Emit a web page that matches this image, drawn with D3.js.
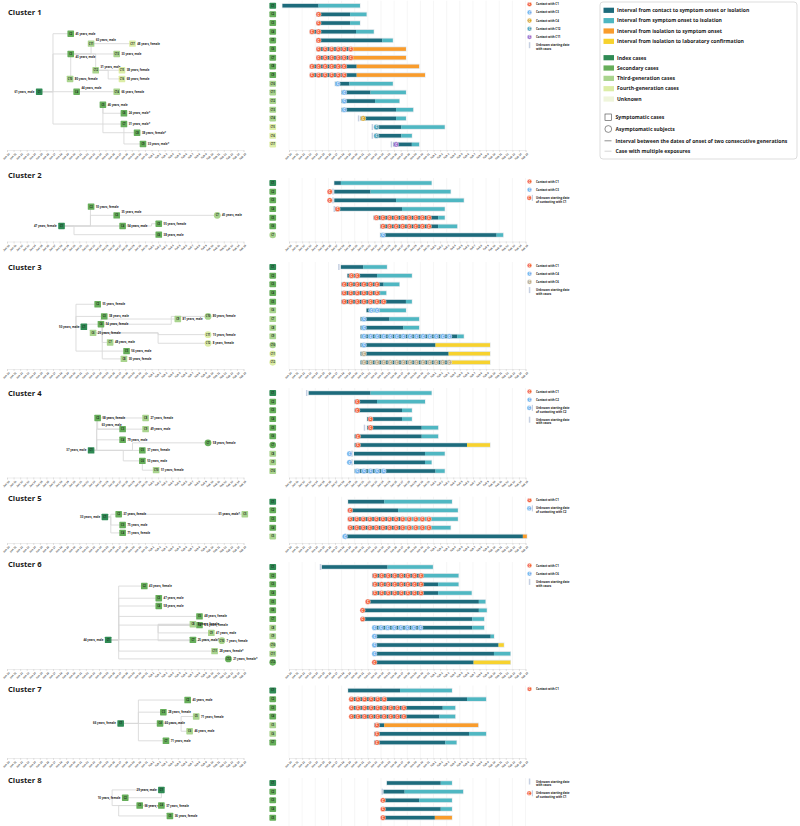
<!DOCTYPE html>
<html><head><meta charset="utf-8">
<script src="https://cdn.jsdelivr.net/npm/d3@7"></script>
<style>
body{margin:0;background:#fff;}
svg{display:block;font-family:"Open Sans","Lato",sans-serif;}
</style></head><body>
<svg id="chart" width="800" height="826"></svg>
<script>
// ---------------- DATA ----------------
const tickDays = d3.range(10, 47);
const tickLabels = tickDays.map(d => d <= 31 ? "Jan " + d : "Feb " + (d - 31));

// rows: [id, generation(0 index..4 unknown), asymptomatic, start, mid, end, tail(S/O/Y), contactWith, contactDays, unknownDay]
const c1Rows = [
 ["C1",0,0, 9,14.5,20.8,"S",null,[],null],
 ["C2",1,0,14.2,19.3,21.8,"S","C1",[14.5],null],
 ["C3",1,0,14.2,19.3,20.8,"S","C1",[14.5],null],
 ["C4",1,0,13.2,20.2,22.9,"S","C1",[13.5,14.5],null],
 ["C5",1,0,14.2,24.2,25.8,"S","C1",[14.5],null],
 ["C6",1,0,14.2,19.4,27.8,"O","C1",[14.5,15.5,16.5,17.5,18.4,19.4],null],
 ["C7",1,0,14.2,19.4,27.8,"O","C1",[14.5,15.5,16.5,17.5,18.4,19.4],null],
 ["C8",1,0,13.2,20.3,29.8,"O","C1",[13.5,14.5,15.5,16.5,17.5,18.4],null],
 ["C9",1,0,13.2,20.3,30.7,"O","C1",[13.5,14.5,15.5,16.5,17.5,18.4],null],
 ["C10",2,0,17,19.2,25.8,"S","C3",[17.4],null],
 ["C11",2,0,18,22.4,27.8,"S","C3",[18.4],null],
 ["C12",2,0,18,23.1,26.8,"S","C3",[18.4],null],
 ["C13",2,0,18,26.3,28.9,"S","C3",[18.4],null],
 ["C14",2,0,20.9,26.3,27.8,"S","C4",[21.3],20.6],
 ["C15",3,0,23,27.1,33.7,"S","C12",[23.3],22.7],
 ["C16",3,0,23,27.1,28.7,"S","C12",[23.3],22.7],
 ["C17",3,0,25.9,28.7,29.8,"S","C11",[26.3],25.6]
];
// tree nodes: [id, lane (rank in row units), label]
const c1Tree = [
 ["C1",9.92,"61 years, male"],["C2",3.23,"45 years, male"],["C3",5.57,"43 years, male"],
 ["C4",9.92,"44 years, male"],["C5",11.42,"46 years, male"],["C6",12.41,"24 years, male*"],
 ["C7",13.65,"31 years, male*"],["C8",14.65,"38 years, female*"],["C9",15.95,"33 years, male*"],
 ["C10",8.45,"80 years, female"],["C11",4.38,"63 years, male"],["C12",7.45,"31 years, male"],
 ["C13",5.57,"33 years, male"],["C14",9.92,"66 years, female"],["C15",7.45,"38 years, female"],
 ["C16",8.45,"68 years, female"],["C17",4.38,"48 years, female"]
];
// edges: [parent, child, junction day | "p" parent | "c" child]
const c1Edges = [
 ["C1","C2",17],["C1","C3",17],["C1","C4",17],["C1","C7",17],
 ["C5","C6","p"],["C5","C8","p"],["C7","C9","p"],
 ["C3","C11","c"],["C3","C13","p"],["C3","C12","c"],["C3","C10","p"],
 ["C11","C17","p"],["C12","C15","p"],["C12","C16",25.4],["C4","C14","p"]
];
const c1Legend = [["c","C1","Contact with C1"],["c","C3","Contact with C3"],["c","C4","Contact with C4"],["c","C12","Contact with C12"],["c","C11","Contact with C11"],["u",null,"Unknown starting date|with cases"]];

const c2Rows = [
 ["C1",0,0,16.9,17.9,31.7,"S",null,[],null],
 ["C2",1,0,16.9,22.4,34.6,"S","C1",[16.2],16.7],
 ["C3",1,0,16.9,26.3,36.6,"S","C1",[16.2],16.7],
 ["C4",1,0,17,27.2,33.7,"S","C1",[17.4],16.9],
 ["C5",1,0,22.9,32.7,33.7,"S","C1",[23.3,24.3,25.3,26.3,27.3,28.3,29.3,30.3,31.3],null],
 ["C6",1,0,23.9,32.7,35.6,"S","C1",[24.3,25.3,26.3,27.3,28.3,29.3,30.3,31.3],null],
 ["C7",2,1,23.9,41.6,42.6,"S","C3",[24.3],null]
];
const c2Tree = [
 ["C1",4.96,"47 years, female"],["C2",2.73,"55 years, female"],["C3",3.73,"35 years, male"],
 ["C4",4.96,"54 years, male"],["C5",4.7,"55 years, female"],["C6",5.96,"38 years, male"],["C7",3.73,"45 years, male"]
];
const c2Edges = [["C1","C2",22.7],["C1","C3",22.7],["C1","C4","p"],["C1","C6",20.2],["C1","C5",32],["C3","C7","p"]];
const c2Legend = [["c","C1","Contact with C1"],["c","C3","Contact with C3"],["cu","C1","Unknown starting date|of contacting with C1"]];

const c3Rows = [
 ["C1",0,0,17.9,21.3,24.9,"S",null,[],17.6],
 ["C2",1,0,18.9,23.4,28.7,"S","C1",[19.5,20.4],null],
 ["C3",1,0,18,24.4,26.8,"S","C1",[18.4,19.4,20.4,21.4,22.4,23.4],null],
 ["C4",1,0,18,23.9,24.8,"S","C1",[18.4,19.4,20.4,21.4,22.4,23.4],null],
 ["C5",1,0,18,27.8,28.7,"S","C1",[18.4,19.4,20.4,21.4,22.4,23.4,24.4],null],
 ["C6",2,0,21.8,22.7,27.8,"S","C4",[22.5,23.4],null],
 ["C7",2,0,20.9,25.3,29.8,"S","C4",[21.4],null],
 ["C8",2,0,20.9,27.4,29.8,"S","C4",[21.4],null],
 ["C9",2,0,20.9,35.6,36.6,"S","C4",[21.4,22.4,23.4,24.4,25.4,26.4,27.4,28.4,29.4,30.4,31.4,32.4,33.4,34.4],null],
 ["C10",2,1,20.9,32.3,40.6,"Y","C4",[21.4],null],
 ["C11",3,1,20.9,34.3,40.6,"Y","C6",[21.4],null],
 ["C12",3,1,20.9,34.6,40.6,"Y","C6",[21.4,22.4,23.4,24.4,25.4,26.4,27.4,28.4,29.4,30.4,31.4,32.4,33.4,34.4],null]
];
const c3Tree = [
 ["C1",6.9,"50 years, male"],["C2",4.3,"55 years, female"],["C3",5.7,"38 years, male"],["C4",6.6,"54 years, female"],
 ["C5",9.7,"56 years, male"],["C6",7.6,"25 years, female"],["C7",8.7,"48 years, male"],["C8",10.6,"30 years, female"],
 ["C9",6.0,"81 years, male"],["C10",5.7,"80 years, female"],["C11",7.8,"15 years, female"],["C12",8.8,"8 years, female"]
];
const c3Edges = [["C1","C2",20.5],["C1","C3",20.5],["C1","C4","p"],["C1","C5",20.5],
 ["C4","C6",24.5],["C4","C7",24.5],["C4","C8",24.5],["C4","C9","p"],["C4","C10",35],["C6","C11",33],["C6","C12",33]];
const c3Legend = [["c","C1","Contact with C1"],["c","C4","Contact with C4"],["c","C6","Contact with C6"],["u",null,"Unknown starting date|with cases"]];

const c4Rows = [
 ["C1",0,0,13,22.4,31.7,"S",null,[],12.7],
 ["C2",1,0,20,23.4,30.7,"S","C1",[20.4],null],
 ["C3",1,0,20,27.2,28.7,"S","C1",[20.4],null],
 ["C4",1,0,21.9,27.2,28.7,"S","C1",[22.4],null],
 ["C5",1,0,21.9,30.2,32.7,"S","C1",[22.4],21.5],
 ["C6",1,0,20,30.2,32.7,"S","C1",[20.5],null],
 ["C7",1,1,20,37.1,40.6,"Y","C1",[20.5],null],
 ["C8",2,0,19.9,30.7,33.7,"S","C2",[19.2],19.6],
 ["C9",2,0,19.9,30.7,31.7,"S","C2",[19.2],19.6],
 ["C10",2,0,20,32.3,33.7,"S","C2",[20.4,21.4,22.4,23.4,24.4],null]
];
const c4Tree = [
 ["C1",6.62,"37 years, male"],["C2",2.88,"58 years, female"],["C3",4.17,"63 years, male"],["C4",5.4,"79 years, male"],
 ["C5",6.62,"37 years, female"],["C6",7.83,"53 years, male"],["C7",5.75,"58 years, female"],["C8",2.88,"27 years, female"],
 ["C9",4.17,"49 years, male"],["C10",8.9,"51 years, female"]
];
const c4Edges = [["C1","C2",23.65],["C1","C3",23.65],["C1","C4",23.65],["C1","C5","p"],["C1","C6",27.7],["C1","C7",29.1],
 ["C2","C8","p"],["C2","C9","p"],["C6","C10","p"]];
const c4Legend = [["c","C1","Contact with C1"],["c","C2","Contact with C2"],["cu","C2","Unknown starting date|of contacting with C2"],["u",null,"Unknown starting date|with cases"]];

const c5Rows = [
 ["C1",0,0,19,24.5,34.8,"S",null,[],null],
 ["C2",1,0,19,26.6,35.7,"S","C1",[19.3],null],
 ["C3",1,0,19,27.2,35.7,"S","C1",[19.3,20.3,21.3,22.3,23.3,24.3,25.3,26.3,27.3,28.3,29.3,30.3,31.3],null],
 ["C4",1,0,19,27.2,34.6,"S","C1",[19.3,20.3,21.3,22.3,23.3,24.3,25.3,26.3,27.3,28.3,29.3,30.3,31.3],null],
 ["C5",2,0,18.8,45.6,46.2,"O","C2",[18.5],18.6]
];
const c5Tree = [["C1",1.76,"33 years, male"],["C2",1.45,"37 years, female"],["C3",2.69,"75 years, male"],["C4",3.6,"71 years, female"],["C5",1.45,"51 years, male*"]];
const c5Edges = [["C1","C2",25.8],["C1","C3",25.8],["C1","C4",25.8],["C2","C5","p"]];
const c5Legend = [["c","C1","Contact with C1"],["cu","C2","Unknown starting date|of contacting with C2"]];

const c6Rows = [
 ["C1",0,0,15,25,31.9,"S",null,[],14.8],
 ["C2",1,0,22.7,30.5,35.8,"S","C1",[23.1,24.1,25.1,26.1,27.1,28.1,29.1,30.1],null],
 ["C3",1,0,22.7,32.7,35.8,"S","C1",[23.1,24.1,25.1,26.1,27.1,28.1,29.1,30.1],null],
 ["C4",1,0,22.7,32.7,37.8,"S","C1",[23.1,24.1,25.1,26.1,27.1,28.1,29.1,30.1],null],
 ["C5",1,0,21.8,38.9,39.9,"S","C1",[22.0],null],
 ["C6",1,0,21.1,38.9,40.1,"S","C1",[21.2],null],
 ["C7",1,0,21.1,37.9,39.7,"S","C1",[21.2],null],
 ["C8",2,0,22.8,37.9,39.7,"S","C6",[23.0,24.0,25.0,26.0,27.0,28.0,29.0,30.0],null],
 ["C9",2,0,22.8,40.7,41.2,"S","C6",[23.0],null],
 ["C10",2,1,22.8,41.9,42.7,"Y","C6",[23.0],null],
 ["C11",2,0,22.8,41.2,43.7,"S","C6",[23.0],null],
 ["C12",1,1,22.8,38.1,43.7,"Y","C1",[23.0],null]
];
const c6Tree = [["C1",8.4,"44 years, male"],["C2",2.2,"43 years, female"],["C3",3.6,"47 years, male"],["C4",4.5,"58 years, male"],
 ["C5",5.7,"48 years, female"],["C6",6.7,"6.5 years, female"],["C7",8.4,"25 years, male*"],["C8",6.6,"3 years, female"],
 ["C9",7.6,"41 years, male"],["C10",8.5,"7 years, female"],["C11",9.7,"28 years, female*"],["C12",10.6,"21 years, female*"]];
const c6Edges = [["C1","C2",27],["C1","C3",27],["C1","C4",27],["C1","C5",27],["C1","C6",27],["C1","C7","p"],["C1","C11",27],["C1","C12",27],
 ["C6","C8",33],["C6","C9",33],["C6","C10",33]];
const c6Legend = [["c","C1","Contact with C1"],["c","C6","Contact with C6"],["u",null,"Unknown starting date|with cases"]];

const c7Rows = [
 ["C1",0,0,19,26.9,34.8,"S",null,[],null],
 ["C2",1,0,19.3,37.1,40,"S","C1",[19.5,20.5,21.5,22.5,23.5,24.5],null],
 ["C3",1,0,19.3,33.4,35.3,"S","C1",[19.5,20.5,21.5,22.5,23.5,24.5,25.5,26.5,27.5],null],
 ["C4",1,0,19.3,32.9,35.3,"S","C1",[19.5,20.5,21.5,22.5,23.5,24.5,25.5,26.5,27.5],null],
 ["C5",2,0,23,24.5,38.8,"O","C1",[23.4],null],
 ["C6",2,0,23,37.4,40,"S","C1",[23.4],null],
 ["C7",1,0,23,33.8,35.5,"S","C1",[23.4],null]
];
const c7Tree = [["C1",3.8,"66 years, female"],["C2",1.1,"43 years, male"],["C3",2.5,"28 years, female"],["C4",3.8,"60 years, male"],
 ["C5",3.0,"71 years, female"],["C6",4.7,"46 years, male"],["C7",5.8,"71 years, male"]];
const c7Edges = [["C1","C2",30],["C1","C3",30],["C1","C4","p"],["C1","C7",30],["C4","C5",36.5],["C4","C6",36.5]];
const c7Legend = [["c","C1","Contact with C1"]];

const c8Rows = [
 ["C1",0,0,24.9,33.1,34.8,"S",null,[],null],
 ["C2",1,0,24.4,27.6,36.5,"S","C1",[],24.2],
 ["C3",1,0,24.6,29.8,34.8,"S","C1",[24.3],null],
 ["C4",1,0,24.6,33.1,34.8,"S","C1",[24.3],null],
 ["C5",1,0,24.6,32.2,34.8,"O","C1",[24.3],null]
];
const c8Tree = [["C1",0.8,"29 years, male"],["C2",1.7,"10 years, female"],["C3",2.6,"36 years, male"],["C4",2.6,"37 years, female"],["C5",3.8,"36 years, female"]];
const c8Edges = [["C1","C2","p"],["C1","C4",26],["C4","C3","p"],["C4","C5",27]];
const c8Legend = [["u",null,"Unknown starting date|with cases"],["cu","C1","Unknown starting date|of contacting with C1"]];

const segLegend = ["Interval from contact to symptom onset or isolation","Interval from symptom onset to isolation","Interval from isolation to symptom onset","Interval from isolation to laboratory confirmation"];
const genLegend = ["Index cases","Secondary cases","Third-generation cases","Fourth-generation cases","Unknown"];

// ---------------- STYLE / LAYOUT ----------------
const segColor = {D:"#1d6b7c", S:"#4fb7c2", O:"#f99c2c", Y:"#f7d22e"};
const genColor = ["#2f8a54","#66ae5a","#a9d48e","#dceda6","#eff5db"];
const contactPalette = [["#f3603b","#72b1ec","#d7a52b","#4c9fb7","#9a6dcb"],["#f3603b","#72b1ec"],["#f3603b","#72b1ec","#b8aa8b"],["#f3603b","#72b1ec"],["#f3603b","#72b1ec"],["#f3603b","#72b1ec"],["#f3603b"],["#f3603b"]];
const ROW = 8.67;
const clusters = [
 {title:"Cluster 1",titleY:14.7,top:5.7,axisY:150,rows:c1Rows,tree:c1Tree,edges:c1Edges,legend:c1Legend},
 {title:"Cluster 2",titleY:177.5,top:183,axisY:241.5,rows:c2Rows,tree:c2Tree,edges:c2Edges,legend:c2Legend},
 {title:"Cluster 3",titleY:269.5,top:267,axisY:369,rows:c3Rows,tree:c3Tree,edges:c3Edges,legend:c3Legend},
 {title:"Cluster 4",titleY:395.7,top:393,axisY:477.5,rows:c4Rows,tree:c4Tree,edges:c4Edges,legend:c4Legend},
 {title:"Cluster 5",titleY:501,top:501.7,axisY:543,rows:c5Rows,tree:c5Tree,edges:c5Edges,legend:c5Legend},
 {title:"Cluster 6",titleY:567,top:567,axisY:669,rows:c6Rows,tree:c6Tree,edges:c6Edges,legend:c6Legend},
 {title:"Cluster 7",titleY:692,top:690.5,axisY:758,rows:c7Rows,tree:c7Tree,edges:c7Edges,legend:c7Legend},
 {title:"Cluster 8",titleY:783,top:783,axisY:null,rows:c8Rows,tree:c8Tree,edges:c8Edges,legend:c8Legend}
];
const labelPos = {"0:C1":"l","0:C3":"b","0:C4":"a","0:C11":"a","0:C12":"a",
 "1:C1":"l","1:C3":"a","2:C1":"l","3:C1":"l","3:C3":"al","4:C1":"l","4:C5":"l","5:C1":"l","6:C1":"l","7:C1":"l","7:C2":"l"};

const treeX = d3.scaleLinear().domain([10,46]).range([7,243.5]);
const barX = d3.scaleLinear().domain([10,46]).range([289,525.5]);
const svg = d3.select("#chart");
const g = svg.append("g");

function nodeDay(r){ return r[6]==="S" ? r[4]+0.4 : r[5]; }

function drawAxis(scale, y){
  const ax = d3.axisBottom(scale).tickValues(tickDays).tickFormat((d,i)=>tickLabels[i]).tickSize(2).tickPadding(1);
  const a = g.append("g").attr("transform",`translate(0,${y})`).call(ax);
  a.select(".domain").attr("stroke","#d8d8d8").attr("stroke-width",0.5);
  a.selectAll(".tick line").attr("stroke","#c8c8c8").attr("stroke-width",0.5);
  a.selectAll(".tick text").attr("font-size",2.7).attr("fill","#555").attr("font-weight",600)
   .attr("text-anchor","end").attr("transform","rotate(-45)").attr("dx",-1.2).attr("dy",1.6);
}

function contactMark(sel, x, y, color, r){
  sel.append("circle").attr("cx",x).attr("cy",y).attr("r",r).attr("fill",color).attr("stroke","#fff").attr("stroke-width",0.4);
  sel.append("text").attr("x",x).attr("y",y+1.25).attr("text-anchor","middle").attr("font-size",r*1.15).attr("font-weight",700).attr("fill","#fff").text("C");
}

clusters.forEach((c,ci)=>{
  const pal = contactPalette[ci];
  const keyColor = {};
  c.legend.forEach(l=>{ if(l[1] && !(l[1] in keyColor)) keyColor[l[1]] = pal[Object.keys(keyColor).length]; });
  g.append("text").attr("x",8).attr("y",c.titleY).attr("font-size",7.6).attr("font-weight",700).attr("fill","#1a1a1a").text(c.title);
  const yOf = i => c.top + i*ROW;
  const bottom = c.axisY || 826;
  g.append("g").selectAll("line").data(tickDays.filter(d=>d%2===0)).join("line")
   .attr("x1",d=>barX(d)).attr("x2",d=>barX(d)).attr("y1",c.top-5).attr("y2",bottom)
   .attr("stroke","#ececec").attr("stroke-width",0.5);
  if(c.axisY){ drawAxis(treeX, c.axisY); drawAxis(barX, c.axisY); }
  const rg = g.append("g");
  c.rows.forEach((r,i)=>{
    const y = yOf(i);
    if(r[2]) rg.append("circle").attr("cx",272.7).attr("cy",y).attr("r",3.3).attr("fill",genColor[r[1]]);
    else rg.append("rect").attr("x",269.4).attr("y",y-3).attr("width",6.7).attr("height",6).attr("rx",0.8).attr("fill",genColor[r[1]]);
    rg.append("text").attr("x",272.7).attr("y",y+0.9).attr("text-anchor","middle").attr("font-size",2.5).attr("font-weight",700).attr("fill","#1c2a1c").text(r[0]);
    rg.append("rect").attr("x",barX(r[3])-0.6).attr("y",y-2.6).attr("width",barX(r[5])-barX(r[3])+1.2).attr("height",5.2).attr("fill","#e2e8ec");
    rg.append("rect").attr("x",barX(r[3])).attr("y",y-1.8).attr("width",barX(r[4])-barX(r[3])).attr("height",3.6).attr("fill",segColor.D);
    rg.append("rect").attr("x",barX(r[4])).attr("y",y-1.8).attr("width",barX(r[5])-barX(r[4])).attr("height",3.6).attr("fill",segColor[r[6]]);
    if(r[9]!=null) rg.append("rect").attr("x",barX(r[9])-0.8).attr("y",y-3).attr("width",1.5).attr("height",6).attr("fill","#c6d0e2");
    r[8].forEach(d=>contactMark(rg, barX(d), y, keyColor[r[7]], 2.6));
  });
  let ly = c.top - 1.5;
  const lg = g.append("g");
  c.legend.forEach(l=>{
    const lines = l[2].split("|");
    if(l[0]==="c") contactMark(lg,529.5,ly,keyColor[l[1]],2.3);
    else if(l[0]==="u") lg.append("rect").attr("x",528.8).attr("y",ly-3).attr("width",1.5).attr("height",6).attr("fill","#c6d0e2");
    else { contactMark(lg,529.2,ly,keyColor[l[1]],2.3); lg.append("rect").attr("x",531.8).attr("y",ly-3).attr("width",1.2).attr("height",6).attr("fill","#c6d0e2"); }
    lines.forEach((t,k)=>lg.append("text").attr("x",536).attr("y",ly+1+k*3.6).attr("font-size",2.9).attr("font-weight",700).attr("fill","#222").text(t));
    ly += 8.2 + (lines.length-1)*3.6;
  });
  const nodes = {};
  c.tree.forEach(t=>{
    const r = c.rows.find(q=>q[0]===t[0]);
    nodes[t[0]] = {x:treeX(nodeDay(r)), y:c.top + t[1]*ROW, row:r, label:t[2], id:t[0]};
  });
  const tg = g.append("g");
  c.edges.forEach(e=>{
    const p = nodes[e[0]], ch = nodes[e[1]];
    const vx = e[2]==="p" ? p.x : e[2]==="c" ? ch.x : treeX(e[2]);
    tg.append("path").attr("d",`M${p.x},${p.y}H${vx}V${ch.y}H${ch.x}`).attr("fill","none").attr("stroke","#d9d9d9").attr("stroke-width",0.9);
  });
  Object.values(nodes).forEach(n=>{
    if(n.row[2]) tg.append("circle").attr("cx",n.x).attr("cy",n.y).attr("r",3.4).attr("fill",genColor[n.row[1]]);
    else tg.append("rect").attr("x",n.x-3.3).attr("y",n.y-3.2).attr("width",6.6).attr("height",6.4).attr("rx",0.6).attr("fill",genColor[n.row[1]]);
    tg.append("text").attr("x",n.x).attr("y",n.y+0.9).attr("text-anchor","middle").attr("font-size",2.5).attr("font-weight",700).attr("fill","#1c2a1c").text(n.id);
    const pos = labelPos[ci+":"+n.id] || "r";
    const o = {r:[4.8,1,"start"],l:[-4.8,1,"end"],a:[4.8,-2.4,"start"],b:[4.8,4.4,"start"],al:[-1,-3.6,"end"]}[pos];
    tg.append("text").attr("x",n.x+o[0]).attr("y",n.y+o[1]).attr("text-anchor",o[2]).attr("font-size",2.8).attr("font-weight",700).attr("fill","#222").text(n.label);
  });
});

const L = g.append("g");
L.append("rect").attr("x",600).attr("y",2).attr("width",197).attr("height",157).attr("rx",3).attr("fill","#fff").attr("stroke","#cfcfcf").attr("stroke-width",0.7);
const segKeys = ["D","S","O","Y"];
segLegend.forEach((t,i)=>{
  const y = 10.3 + i*10.35;
  L.append("rect").attr("x",603.5).attr("y",y-2.6).attr("width",10.5).attr("height",5.2).attr("fill",segColor[segKeys[i]]);
  L.append("text").attr("x",617).attr("y",y+1.8).attr("font-size",5.1).attr("font-weight",700).attr("fill","#222").text(t);
});
genLegend.forEach((t,i)=>{
  const y = 57.7 + i*10.33;
  L.append("rect").attr("x",603.5).attr("y",y-2.6).attr("width",10.5).attr("height",5.2).attr("fill",genColor[i]);
  L.append("text").attr("x",617).attr("y",y+1.8).attr("font-size",5.1).attr("font-weight",700).attr("fill","#222").text(t);
});
L.append("rect").attr("x",605).attr("y",114).attr("width",6.6).attr("height",6.6).attr("fill","#fff").attr("stroke","#444").attr("stroke-width",0.6);
L.append("text").attr("x",615.5).attr("y",119.2).attr("font-size",5.1).attr("font-weight",700).attr("fill","#222").text("Symptomatic cases");
L.append("circle").attr("cx",608.3).attr("cy",129).attr("r",3.4).attr("fill","#fff").attr("stroke","#444").attr("stroke-width",0.6);
L.append("text").attr("x",615.5).attr("y",130.9).attr("font-size",5.1).attr("font-weight",700).attr("fill","#222").text("Asymptomatic subjects");
L.append("line").attr("x1",604.5).attr("x2",611.5).attr("y1",140.8).attr("y2",140.8).attr("stroke","#444").attr("stroke-width",0.6);
L.append("text").attr("x",615.5).attr("y",142.6).attr("font-size",5.1).attr("font-weight",700).attr("fill","#222").text("Interval between the dates of onset of two consecutive generations");
L.append("line").attr("x1",604.5).attr("x2",611.5).attr("y1",151.2).attr("y2",151.2).attr("stroke","#bbb").attr("stroke-width",0.6);
L.append("text").attr("x",615.5).attr("y",153).attr("font-size",5.1).attr("font-weight",700).attr("fill","#222").text("Case with multiple exposures");
</script>
</body></html>
